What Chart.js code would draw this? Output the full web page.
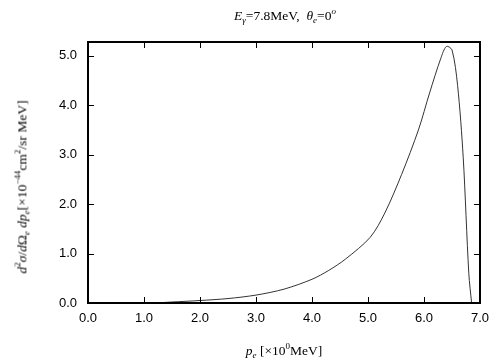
<!DOCTYPE html>
<html>
<head>
<meta charset="utf-8">
<script src="https://cdn.jsdelivr.net/npm/chart.js@4"></script>
<style>
  body { margin: 0; background: #fff; }
  #wrap { position: relative; width: 504px; height: 360px; }
  .lbl { position: absolute; font-family: "Liberation Serif", "DejaVu Serif", serif; font-size: 13.5px; color: #000; white-space: nowrap; }
  .lbl sub, .lbl sup { font-size: 9px; }
  #ytitle { transform: translate(-50%, -50%) rotate(-90deg); }
</style>
</head>
<body>
<div id="wrap">
  <canvas id="c" width="504" height="360"></canvas>
  <div class="lbl" id="title" style="left:285px; top:6px; transform:translateX(-50%);"><i>E</i><sub><i>γ</i></sub>=7.8MeV,&nbsp; <i>θ</i><sub><i>e</i></sub>=0<sup><i>o</i></sup></div>
  <div class="lbl" id="ytitle" style="left:22px; top:187px;"><i>d</i><sup>2</sup><i>σ</i>/<i>d</i>Ω<sub><i>e</i></sub> <i>dp</i><sub><i>e</i></sub>[×10<sup>−44</sup>cm<sup>2</sup>/sr MeV]</div>
  <div class="lbl" id="xtitle" style="left:284px; top:341px; transform:translateX(-50%);"><i>p</i><sub><i>e</i></sub> [×10<sup>0</sup>MeV]</div>
</div>
<script>
// electron momentum (MeV) and cross section values
const momentum = [1.2, 1.5, 2.0, 2.5, 3.0, 3.5, 4.0, 4.3, 4.6, 5.04, 5.3, 5.6, 5.9, 6.1, 6.3, 6.4, 6.5, 6.6, 6.7, 6.8, 6.85];
const crossSection = [0.0, 0.02, 0.05, 0.09, 0.16, 0.28, 0.48, 0.66, 0.89, 1.33, 1.82, 2.6, 3.5, 4.25, 4.95, 5.19, 5.12, 4.4, 2.95, 0.6, 0.0];
const xTicks = [0, 1, 2, 3, 4, 5, 6, 7];
const yTicks = [0, 1, 2, 3, 4, 5];

const points = momentum.map((p, i) => ({ x: p, y: crossSection[i] }));

// gnuplot style frame with inward ticks on all four sides
const framePlugin = {
  id: 'frame',
  afterDraw(chart) {
    const ctx = chart.ctx;
    const a = chart.chartArea;
    const xs = chart.scales.x, ys = chart.scales.y;
    ctx.save();
    ctx.strokeStyle = '#000';
    ctx.lineWidth = 1;
    ctx.beginPath();
    xTicks.forEach(v => {
      const px = Math.round(xs.getPixelForValue(v)) + 0.5;
      ctx.moveTo(px, a.bottom); ctx.lineTo(px, a.bottom - 6);
      ctx.moveTo(px, a.top); ctx.lineTo(px, a.top + 6);
    });
    yTicks.forEach(v => {
      const py = Math.round(ys.getPixelForValue(v)) + 0.5;
      ctx.moveTo(a.left, py); ctx.lineTo(a.left + 6, py);
      ctx.moveTo(a.right, py); ctx.lineTo(a.right - 6, py);
    });
    ctx.stroke();
    ctx.lineWidth = 2;
    ctx.strokeRect(a.left, a.top, a.right - a.left, a.bottom - a.top);
    ctx.restore();
  }
};

new Chart(document.getElementById('c').getContext('2d'), {
  type: 'line',
  data: {
    datasets: [{
      data: points,
      borderColor: '#333',
      borderWidth: 1,
      pointRadius: 0,
      tension: 0.3,
      fill: false
    }]
  },
  options: {
    responsive: false,
    animation: false,
    layout: { padding: { left: 0, right: 24, top: 42, bottom: 0 } },
    plugins: { legend: { display: false }, tooltip: { enabled: false } },
    scales: {
      x: {
        type: 'linear',
        min: 0,
        max: 7,
        afterBuildTicks: s => { s.ticks = xTicks.map(v => ({ value: v })); },
        afterFit: s => { s.height = 57; },
        grid: { display: false, drawTicks: false },
        border: { display: false },
        ticks: {
          padding: 8,
          color: '#000',
          font: { family: 'Liberation Sans', size: 13 },
          maxRotation: 0,
          callback: v => v.toFixed(1)
        }
      },
      y: {
        type: 'linear',
        min: 0,
        max: 5.28,
        afterBuildTicks: s => { s.ticks = yTicks.map(v => ({ value: v })); },
        afterFit: s => { s.width = 88; },
        grid: { display: false, drawTicks: false },
        border: { display: false },
        ticks: {
          padding: 11,
          color: '#000',
          font: { family: 'Liberation Sans', size: 13 },
          callback: v => v.toFixed(1)
        }
      }
    }
  },
  plugins: [framePlugin]
});
</script>
</body>
</html>
